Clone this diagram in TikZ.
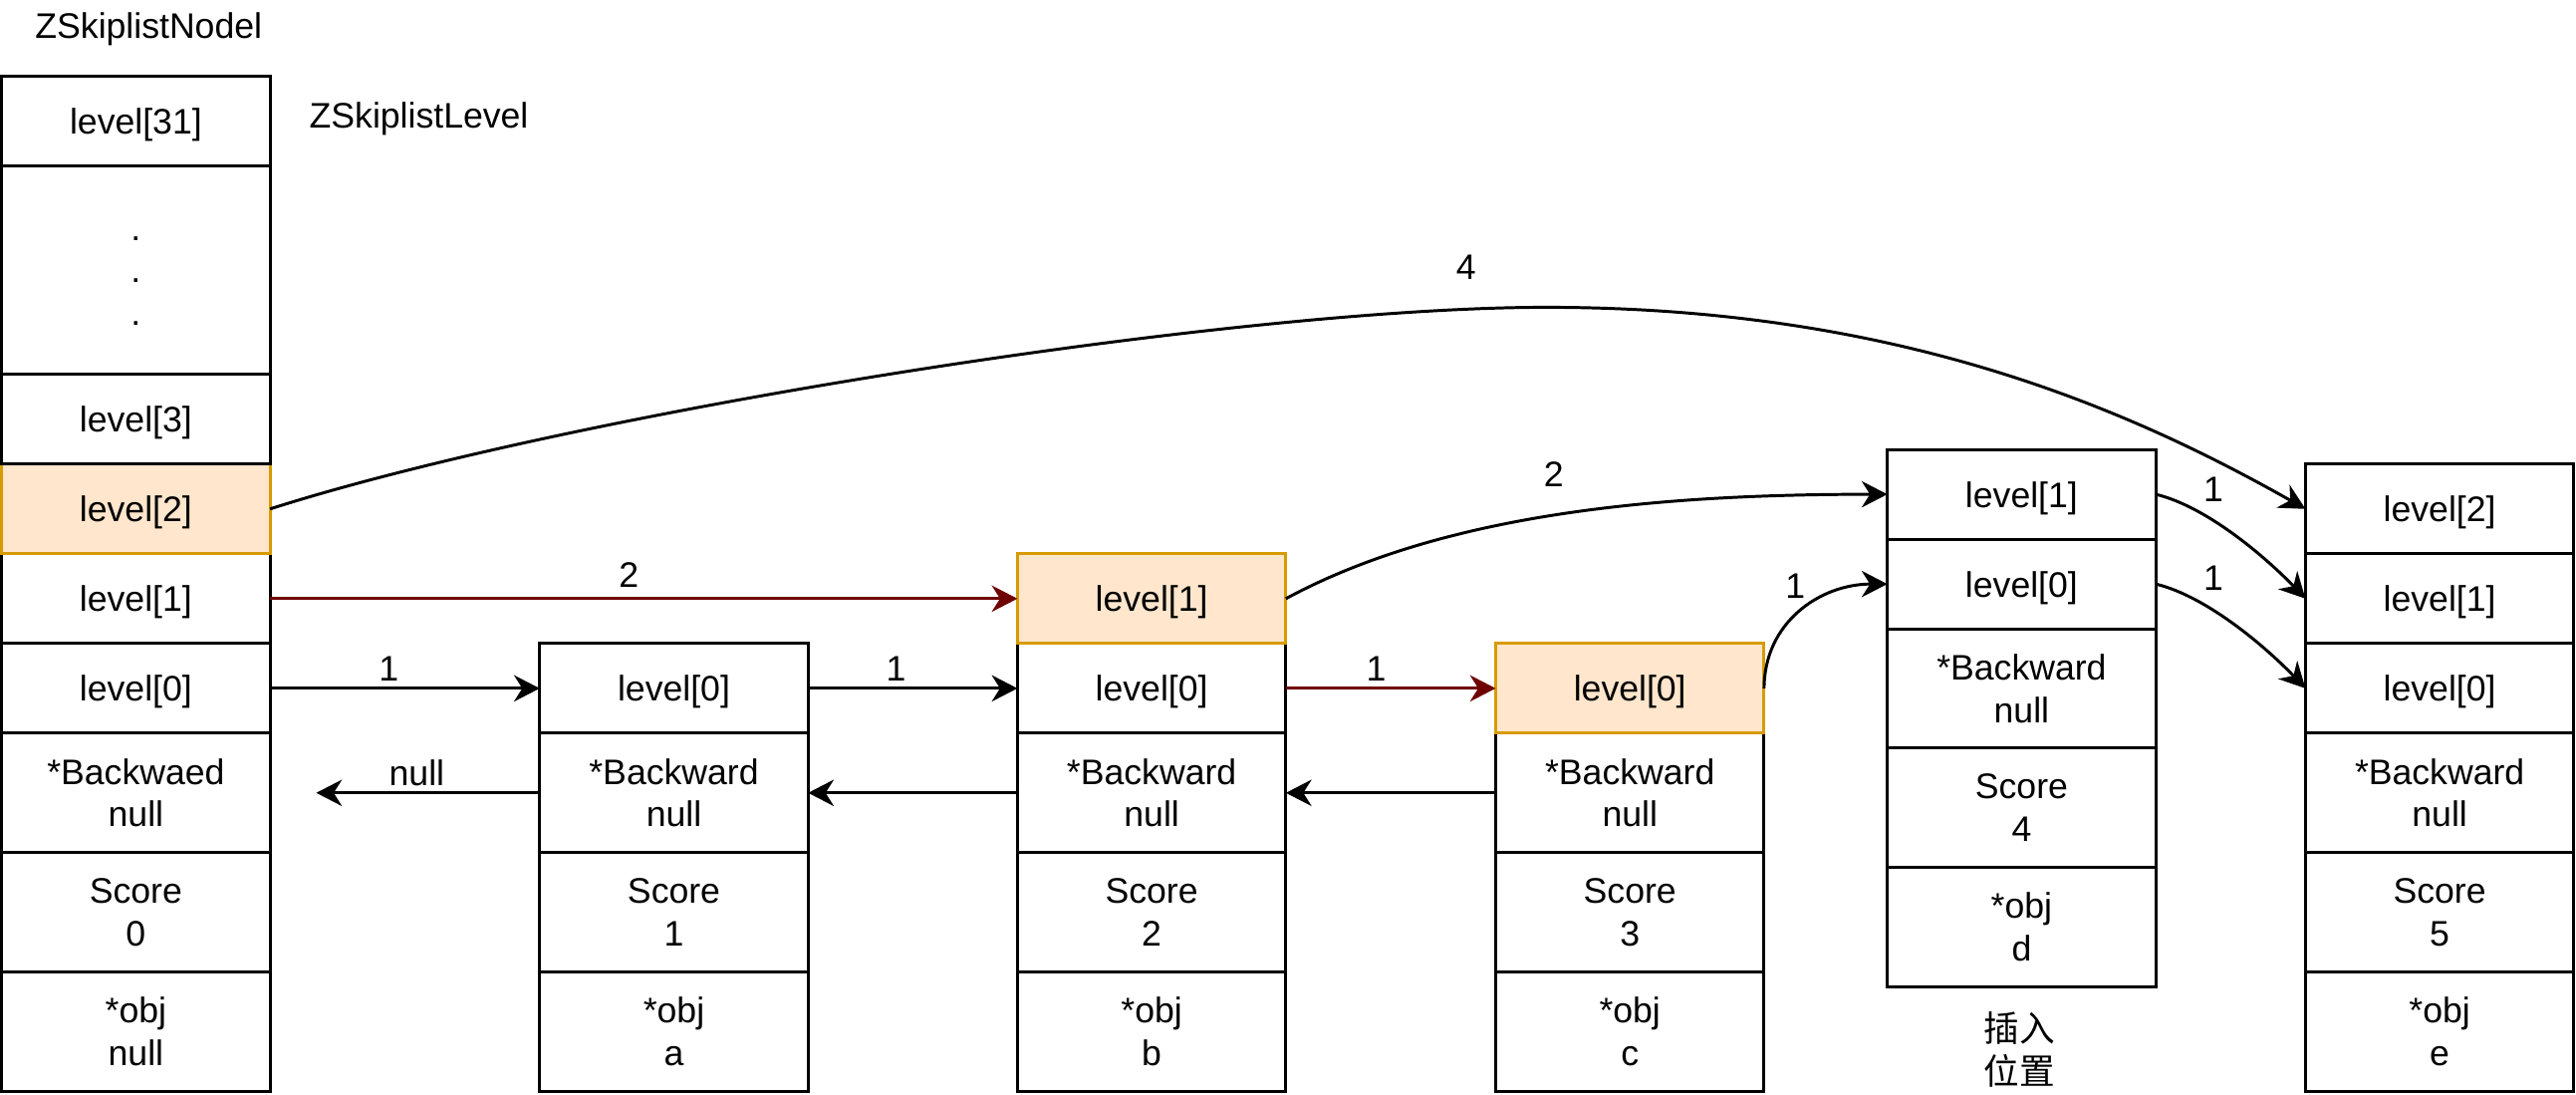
\documentclass[tikz,border=0pt]{standalone}
\usepackage{fontspec}
\setmainfont{Liberation Sans}
\newfontfamily\cjk{Noto Sans CJK SC}
\usetikzlibrary{arrows.meta,positioning}
\definecolor{hlfill}{HTML}{FFE6CC}
\definecolor{hldraw}{HTML}{D79B00}
\definecolor{darkred}{HTML}{6F0000}

\tikzset{
    cell/.style={draw, line width=0.9pt, minimum width=81.7pt, inner sep=0pt, outer sep=0pt, align=center, font=\fontsize{10.8}{13}\selectfont},
    lvl/.style={cell, minimum height=27.3pt, text depth=0pt},
    data/.style={cell, minimum height=36.3pt},
    hl/.style={fill=hlfill, draw=hldraw},
    txt/.style={inner sep=0pt, font=\fontsize{10.8}{13}\selectfont},
    link/.style={line width=0.9pt, -{Stealth[length=7.8pt, width=8pt, inset=2.5pt]}},
    redlink/.style={link, draw=darkred}
}

\begin{document}
\begin{tikzpicture}[x=0.5pt, y=-0.5pt]
    \useasboundingbox (0,0) rectangle (1568,665.8);

    \node[txt, anchor=base] (title) at (90.5,23.4) {ZSkiplistNodel};
    \node[txt, anchor=base] (levellabel) at (255,78) {ZSkiplistLevel};

    \node[data] (hobj) at (82.7,627.7) {*obj\\null};
    \node[data] (hscore) at (82.7,555.1) {Score\\0};
    \node[data] (hback) at (82.7,482.5) {*Backwaed\\null};
    \node[lvl] (h0) at (82.7,418.9) {level[0]};
    \node[lvl] (h1) at (82.7,364.3) {level[1]};
    \node[lvl, hl] (h2) at (82.7,309.7) {level[2]};
    \node[lvl] (h3) at (82.7,255.1) {level[3]};
    \node[cell, minimum height=63.5pt] (hdots) at (82.7,164.3) {\vphantom{l}.\\.\\.};
    \node[lvl] (h31) at (82.7,73.5) {level[31]};

    \node[data] (aobj) at (410.2,627.7) {*obj\\a};
    \node[data] (ascore) at (410.2,555.1) {Score\\1};
    \node[data] (aback) at (410.2,482.5) {*Backward\\null};
    \node[lvl] (a0) at (410.2,418.9) {level[0]};

    \node[data] (bobj) at (701,627.7) {*obj\\b};
    \node[data] (bscore) at (701,555.1) {Score\\2};
    \node[data] (bback) at (701,482.5) {*Backward\\null};
    \node[lvl] (b0) at (701,418.9) {level[0]};
    \node[lvl, hl] (b1) at (701,364.3) {level[1]};

    \node[data] (cobj) at (992.1,627.7) {*obj\\c};
    \node[data] (cscore) at (992.1,555.1) {Score\\3};
    \node[data] (cback) at (992.1,482.5) {*Backward\\null};
    \node[lvl, hl] (c0) at (992.1,418.9) {level[0]};

    \node[data] (dobj) at (1230.5,564.2) {*obj\\d};
    \node[data] (dscore) at (1230.5,491.6) {Score\\4};
    \node[data] (dback) at (1230.5,419) {*Backward\\null};
    \node[lvl] (d0) at (1230.5,355.4) {level[0]};
    \node[lvl] (d1) at (1230.5,300.8) {level[1]};
    \node[txt, align=center, font=\cjk\fontsize{10.8}{13}\selectfont] (insert) at (1229.4,638.5) {插入\\位置};

    \node[data] (eobj) at (1485,627.7) {*obj\\e};
    \node[data] (escore) at (1485,555.1) {Score\\5};
    \node[data] (eback) at (1485,482.5) {*Backward\\null};
    \node[lvl] (e0) at (1485,418.9) {level[0]};
    \node[lvl] (e1) at (1485,364.3) {level[1]};
    \node[lvl] (e2) at (1485,309.7) {level[2]};

    \coordinate (peak) at (941,187);
    \coordinate (nullend) at (192.5,482.5);

    \draw[link] (h2.east) .. controls +(188,-60) and +(-187,0) .. (peak) node[txt, xshift=-24.3pt, yshift=12.2pt] {4} .. controls +(209,0) and +(-113,-64) .. (e2.west);
    \draw[redlink] (h1.east) -- node[txt, pos=0.48, above=2.9pt] {2} (b1.west);
    \draw[link] (h0.east) -- node[txt, pos=0.44, above=1.9pt] {1} (a0.west);
    \draw[link] (a0.east) -- node[txt, pos=0.42, above=1.9pt] {1} (b0.west);
    \draw[redlink] (b0.east) -- node[txt, pos=0.43, above=1.9pt] {1} (c0.west);

    \draw[link] (b1.east) .. controls +(100,-54) and +(-130,0) .. (d1.west) node[txt, pos=0.5, xshift=-4.4pt, yshift=11.7pt] {2};
    \draw[link] (c0.east) .. controls +(0,-40) and +(-41,0) .. (d0.west) node[txt, pos=0.5, xshift=-1.6pt, yshift=7.8pt] {1};
    \draw[link] (d1.east) .. controls +(33,8) and +(-21,-22) .. (e1.west) node[txt, pos=0.5, xshift=-7.5pt, yshift=14.6pt] {1};
    \draw[link] (d0.east) .. controls +(33,8) and +(-21,-22) .. (e0.west) node[txt, pos=0.5, xshift=-7.5pt, yshift=15.1pt] {1};

    \draw[link] (aback.west) -- node[txt, pos=0.55, above=1.7pt] {null} (nullend);
    \draw[link] (bback.west) -- (aback.east);
    \draw[link] (cback.west) -- (bback.east);
\end{tikzpicture}
\end{document}
